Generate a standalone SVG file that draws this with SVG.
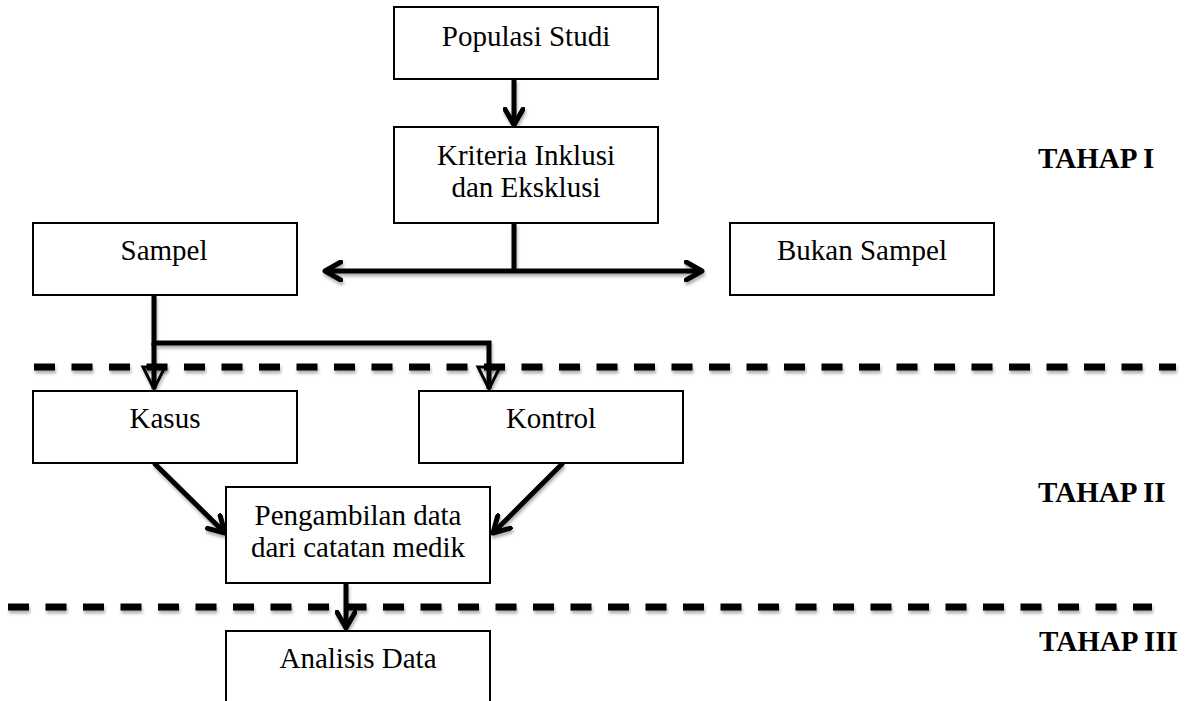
<svg xmlns="http://www.w3.org/2000/svg" width="1199" height="701" viewBox="0 0 1199 701">
<style>
.box{fill:#fff;stroke:#000;stroke-width:2}
.t{font-family:"Liberation Serif","Times New Roman",serif;font-size:29px;fill:#000;text-anchor:middle}
.h{font-family:"Liberation Serif","Times New Roman",serif;font-size:29px;font-weight:bold;fill:#000}
.c{fill:none;stroke:#000;stroke-width:5;stroke-linecap:butt}
.dash{fill:none;stroke:#000;stroke-width:7;stroke-dasharray:21 16.5}
.tri{fill:none;stroke:#000;stroke-width:3;stroke-linejoin:miter}
</style>
<defs>
<filter id="sh" x="-10%" y="-50%" width="120%" height="200%">
<feDropShadow dx="1" dy="3" stdDeviation="1.5" flood-color="#000" flood-opacity="0.3"/>
</filter>
<marker id="chev" viewBox="0 0 10 10" refX="8" refY="5" markerWidth="4.5" markerHeight="4.5" orient="auto" markerUnits="strokeWidth">
<path d="M1,1 L8,5 L1,9" fill="none" stroke="#000" stroke-width="2.2" stroke-linecap="round" stroke-linejoin="round"/>
</marker>
<marker id="chevs" viewBox="0 0 10 10" refX="8" refY="5" markerWidth="4.5" markerHeight="4.5" orient="auto-start-reverse" markerUnits="strokeWidth">
<path d="M1,1 L8,5 L1,9" fill="none" stroke="#000" stroke-width="2.2" stroke-linecap="round" stroke-linejoin="round"/>
</marker>
</defs>

<g id="separators" filter="url(#sh)">
<line class="dash" x1="34" y1="367" x2="1176" y2="367"/>
<line class="dash" x1="8" y1="607" x2="1152" y2="607"/>
</g>

<g id="connectors" filter="url(#sh)">
<line class="c" x1="514" y1="79" x2="514" y2="125" marker-end="url(#chev)"/>
<line class="c" x1="514" y1="223" x2="514" y2="271"/>
<line class="c" x1="325" y1="271" x2="702" y2="271" marker-start="url(#chevs)" marker-end="url(#chevs)"/>
<polyline class="c" points="154,295 154,343 489,343 489,389"/>
<line class="c" x1="154" y1="343" x2="154" y2="389"/>
<polygon class="tri" points="143,367 165,367 154,389"/>
<polygon class="tri" points="478,367 500,367 489,389"/>
<line class="c" x1="154" y1="463" x2="225" y2="533" marker-end="url(#chev)"/>
<line class="c" x1="563" y1="463" x2="493" y2="533" marker-end="url(#chev)"/>
<line class="c" x1="346" y1="583" x2="346" y2="628" marker-end="url(#chev)"/>
</g>

<g id="populasi">
<rect class="box" x="394" y="7" width="264" height="72"/>
<text class="t" x="526" y="46">Populasi Studi</text>
</g>
<g id="kriteria">
<rect class="box" x="394" y="127" width="264" height="96"/>
<text class="t" x="526" y="165">Kriteria Inklusi</text>
<text class="t" x="526" y="197">dan Eksklusi</text>
</g>
<g id="sampel">
<rect class="box" x="33" y="223" width="264" height="72"/>
<text class="t" x="164" y="260">Sampel</text>
</g>
<g id="bukan-sampel">
<rect class="box" x="730" y="223" width="264" height="72"/>
<text class="t" x="862" y="260">Bukan Sampel</text>
</g>
<g id="kasus">
<rect class="box" x="33" y="391" width="264" height="72"/>
<text class="t" x="165" y="428">Kasus</text>
</g>
<g id="kontrol">
<rect class="box" x="419" y="391" width="264" height="72"/>
<text class="t" x="551" y="428">Kontrol</text>
</g>
<g id="pengambilan">
<rect class="box" x="226" y="487" width="264" height="96"/>
<text class="t" x="358" y="525">Pengambilan data</text>
<text class="t" x="358" y="557">dari catatan medik</text>
</g>
<g id="analisis">
<rect class="box" x="226" y="631" width="264" height="90"/>
<text class="t" x="358" y="668">Analisis Data</text>
</g>

<g id="labels">
<text class="h" x="1038" y="168">TAHAP I</text>
<text class="h" x="1038" y="502">TAHAP II</text>
<text class="h" x="1039" y="651">TAHAP III</text>
</g>
</svg>
